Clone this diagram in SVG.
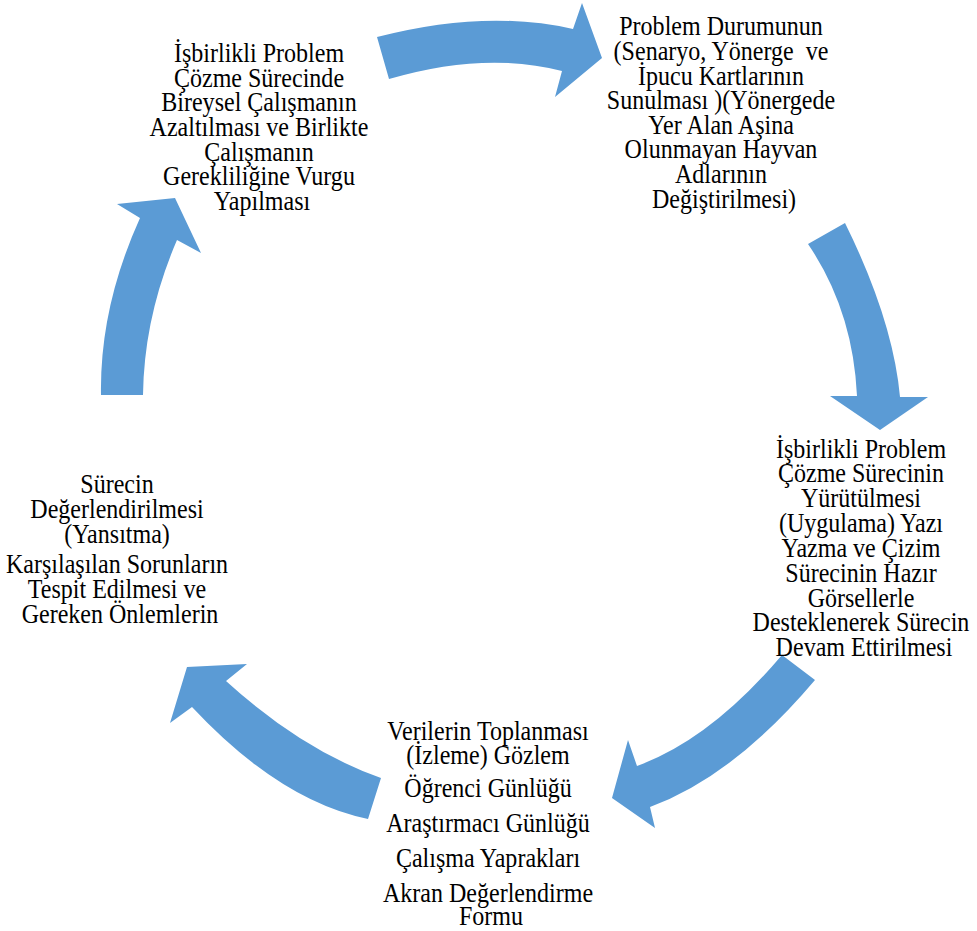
<svg xmlns="http://www.w3.org/2000/svg" width="977" height="931" viewBox="0 0 977 931">
  <style>
    .arrow { fill: #5B9BD5; }
    .lbl { font-size: 27px; fill: #000000; text-anchor: middle; }
  </style>
  <rect width="977" height="931" fill="#ffffff"/>

  <!-- curved cycle arrows -->
  <g id="connectors">
    <path class="arrow" d="M377,37 Q485,9 573,29 L582,3 L602,58 L555,97 L562,71 Q484.5,51 389,79 Z"/>
    <path class="arrow" d="M845,223 Q893,320 900,397 L928,397 L880,430 L830,396 L857,396 Q853,310 808,244 Z"/>
    <path class="arrow" d="M815,680 Q733.5,776.5 650,807 L655,828 L612,798 L628,740 L637,766 Q710.5,739.5 782,655 Z"/>
    <path class="arrow" d="M368,819 Q280,801 192,707 L170,723 L187,667 L247,664 L226,681 Q302.5,750.5 381,778 Z"/>
    <path class="arrow" d="M143,395 Q144,316.5 177,240 L201,253 L175,198 L117,204 L140,218 Q99.5,307.5 101,395 Z"/>
  </g>

  <!-- step 1 -->
  <g id="node-problem" transform="translate(724,0) scale(0.89,1)">
    <text class="lbl" font-family="Liberation Serif, serif">
      <tspan x="0" y="35">Problem Durumunun</tspan>
      <tspan x="0" y="60" xml:space="preserve">(Senaryo, Yönerge  ve</tspan>
      <tspan x="0" y="85">İpucu Kartlarının</tspan>
      <tspan x="0" y="109">Sunulması )(Yönergede</tspan>
      <tspan x="0" y="134">Yer Alan Aşina</tspan>
      <tspan x="0" y="158">Olunmayan Hayvan</tspan>
      <tspan x="0" y="183">Adlarının</tspan>
      <tspan x="0" y="208">Değiştirilmesi)</tspan>
    </text>
  </g>

  <!-- step 2 -->
  <g id="node-uygulama" transform="translate(864,0) scale(0.89,1)">
    <text class="lbl" font-family="Liberation Serif, serif">
      <tspan x="0" y="458">İşbirlikli Problem</tspan>
      <tspan x="0" y="482">Çözme Sürecinin</tspan>
      <tspan x="0" y="507">Yürütülmesi</tspan>
      <tspan x="0" y="532">(Uygulama) Yazı</tspan>
      <tspan x="0" y="557">Yazma ve Çizim</tspan>
      <tspan x="0" y="582">Sürecinin Hazır</tspan>
      <tspan x="0" y="607">Görsellerle</tspan>
      <tspan x="0" y="631">Desteklenerek Sürecin</tspan>
      <tspan x="0" y="656">Devam Ettirilmesi</tspan>
    </text>
  </g>

  <!-- step 3 -->
  <g id="node-veriler" transform="translate(491,0) scale(0.89,1)">
    <text class="lbl" font-family="Liberation Serif, serif">
      <tspan x="0" y="740">Verilerin Toplanması</tspan>
      <tspan x="0" y="764">(İzleme) Gözlem</tspan>
      <tspan x="0" y="797">Öğrenci Günlüğü</tspan>
      <tspan x="0" y="832">Araştırmacı Günlüğü</tspan>
      <tspan x="0" y="867">Çalışma Yaprakları</tspan>
      <tspan x="0" y="902">Akran Değerlendirme</tspan>
      <tspan x="0" y="925">Formu</tspan>
    </text>
  </g>

  <!-- step 4 -->
  <g id="node-degerlendirme" transform="translate(120,0) scale(0.89,1)">
    <text class="lbl" font-family="Liberation Serif, serif">
      <tspan x="0" y="493">Sürecin</tspan>
      <tspan x="0" y="518">Değerlendirilmesi</tspan>
      <tspan x="0" y="543">(Yansıtma)</tspan>
      <tspan x="0" y="573">Karşılaşılan Sorunların</tspan>
      <tspan x="0" y="598">Tespit Edilmesi ve</tspan>
      <tspan x="0" y="623">Gereken Önlemlerin</tspan>
    </text>
  </g>

  <!-- step 5 -->
  <g id="node-birlikte" transform="translate(262,0) scale(0.89,1)">
    <text class="lbl" font-family="Liberation Serif, serif">
      <tspan x="0" y="62">İşbirlikli Problem</tspan>
      <tspan x="0" y="87">Çözme Sürecinde</tspan>
      <tspan x="0" y="111">Bireysel Çalışmanın</tspan>
      <tspan x="0" y="136">Azaltılması ve Birlikte</tspan>
      <tspan x="0" y="161">Çalışmanın</tspan>
      <tspan x="0" y="185">Gerekliliğine Vurgu</tspan>
      <tspan x="0" y="210">Yapılması</tspan>
    </text>
  </g>
</svg>
